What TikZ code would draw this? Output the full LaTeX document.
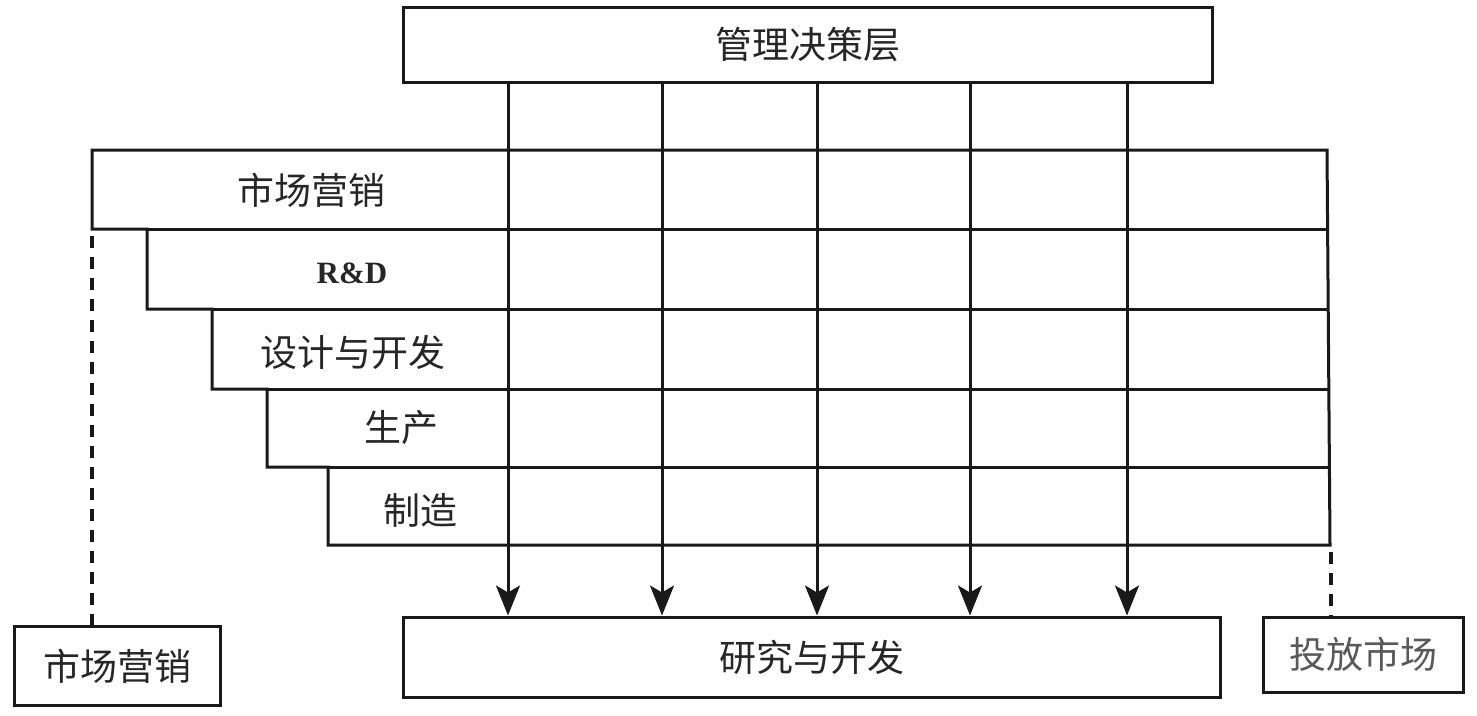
\documentclass[tikz,border=0pt]{standalone}
\usepackage{fontspec}
\setmainfont{Liberation Serif}
\newfontfamily\cjk{Noto Sans CJK SC}
\newfontfamily\rdfont{Liberation Serif}
\usetikzlibrary{arrows.meta}
\begin{document}
\begin{tikzpicture}[x=1pt,y=-1pt,
  ln/.style={line width=3pt,draw=black!90},
  box/.style={ln,rectangle,inner sep=0pt,font=\cjk\fontsize{37}{42}\selectfont,text=black!85},
  lbl/.style={inner sep=0pt,font=\cjk\fontsize{37}{42}\selectfont,text=black!85},
  arr/.style={ln,-{Stealth[length=30pt,width=24pt,inset=7pt]}},
  dsh/.style={line width=3.2pt,draw=black!90,dash pattern=on 12pt off 9pt}]
\useasboundingbox (0,0) rectangle (1477,715);
% boxes
\node[box,minimum width=809pt,minimum height=75pt] (mgmt) at (807.5,44.5) {管理决策层};
\node[box,minimum width=817pt,minimum height=80pt] (rd) at (811.5,657) {研究与开发};
\node[box,minimum width=206pt,minimum height=79pt] (mk) at (117,666) {市场营销};
\node[box,minimum width=200pt,minimum height=75pt,text=black!65] (lm) at (1363,654.5) {投放市场};
% staircase frame
\draw[ln] (92,150) -- (1327,150) -- (1330,545) -- (328,545) -- (328,467) -- (267,467)
  -- (267,389) -- (212,389) -- (212,309) -- (147,309) -- (147,229) -- (92,229) -- cycle;
\draw[ln] (147,229) -- (1328,229);
\draw[ln] (212,309) -- (1328,309);
\draw[ln] (267,389) -- (1329,389);
\draw[ln] (328,467) -- (1329,467);
% row labels
\node[lbl] (r1) at (311,190) {市场营销};
\node[inner sep=0pt,font=\rdfont\bfseries\fontsize{31}{36}\selectfont,text=black!85] (r2) at (352,273) {R\&D};
\node[lbl] (r3) at (353,352) {设计与开发};
\node[lbl] (r4) at (401,428) {生产};
\node[lbl] (r5) at (420,510) {制造};
% arrows
\foreach \x in {508,662,817,970,1127}{
  \draw[arr] (mgmt.south -| \x,0) -- (rd.north -| \x,0);
}
% dashed connectors
\coordinate (dl) at (92,236);
\coordinate (dr) at (1331,552);
\draw[dsh] (dl) -- (dl |- mk.north);
\draw[dsh] (dr) -- (dr |- lm.north);
\end{tikzpicture}
\end{document}
